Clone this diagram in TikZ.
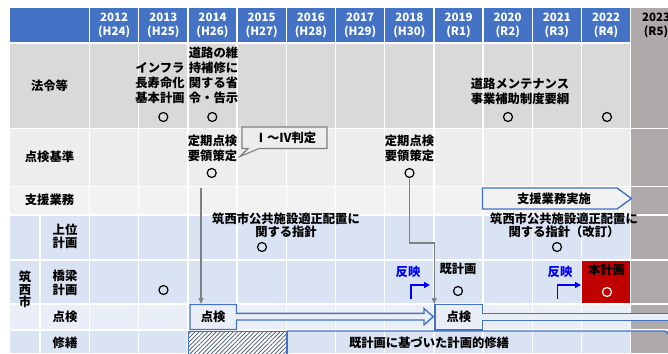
\documentclass[tikz,border=0pt]{standalone}
\usepackage{fontspec}
\setmainfont{Noto Sans CJK JP}
\usetikzlibrary{arrows.meta,patterns.meta}
\definecolor{hdr}{HTML}{4472C4}
\definecolor{rowA}{HTML}{D9D9D9}
\definecolor{rowB}{HTML}{EDEDED}
\definecolor{rowC}{HTML}{F2F2F2}
\definecolor{blA}{HTML}{DAE3F3}
\definecolor{blB}{HTML}{EAEFF7}
\definecolor{colR}{HTML}{AEAAAA}
\definecolor{redbox}{HTML}{C00000}
\definecolor{gline}{HTML}{808080}
\definecolor{hatch}{HTML}{44546A}
\begin{document}
\begin{tikzpicture}[x=1pt,y=-1pt,
  every node/.style={inner sep=0pt,outer sep=0pt,align=center,font=\bfseries\fontsize{12.3}{15.2}\selectfont},
  hd/.style={text=white,font=\bfseries\fontsize{11.5}{14}\selectfont},
  tight/.style={font=\bfseries\fontsize{12.3}{13.5}\selectfont},
  okmark/.style={circle,draw,line width=1.2pt,minimum size=9pt},
  grid/.style={white,line width=1.3pt},
  garrow/.style={gline,line width=1.1pt,-{Triangle[length=6pt,width=5pt]}},
  barrow/.style={blue,line width=1.6pt,-{Triangle[length=6pt,width=6pt]}},
  outl/.style={draw=hdr,line width=1.4pt},
]
\useasboundingbox (0,0) rectangle (668,353);
\clip (0,0) rectangle (668,353);
% row backgrounds
\fill[hdr] (10,8) rectangle (668,42);
\fill[rowA] (10,44) rectangle (668,128.5);
\fill[rowB] (10,128.5) rectangle (668,186.5);
\fill[rowC] (10,186.5) rectangle (668,215);
\fill[blA] (10,215) rectangle (668,304);
\fill[blB] (10,304) rectangle (668,330);
\fill[blA] (10,330) rectangle (668,353);
\fill[colR] (630.7,8) rectangle (668,353);
\fill[redbox] (581.5,260) rectangle (630.7,304);
% grid
\foreach \i in {0,...,11} \draw[grid] ({89.5+49.2*\i},8) -- ({89.5+49.2*\i},353);
\foreach \yy in {128.5,186.5,215,260,304,330} \draw[grid] (10,\yy) -- (668,\yy);
\draw[grid] (40,215) -- (40,353);
% header
\foreach \i/\yr/\era in {0/2012/(H24),1/2013/(H25),2/2014/(H26),3/2015/(H27),4/2016/(H28),5/2017/(H29),6/2018/(H30),7/2019/(R1),8/2020/(R2),9/2021/(R3),10/2022/(R4)}
  \node[hd] (h\i) at ({114.1+49.2*\i},25) {\yr\\\era};
\node[hd,text=black] (h11) at (656,25) {2023\\(R5)};
% row labels
\node (l1) at (49.5,86) {法令等};
\node (l2) at (49.5,157) {点検基準};
\node (l3) at (49.5,200) {支援業務};
\node[font=\bfseries\fontsize{12.3}{12.6}\selectfont] (l4) at (25,289.5) {筑\\西\\市};
\node[tight] (l5) at (65,236.5) {上位\\計画};
\node[tight] (l6) at (65,283) {橋梁\\計画};
\node (l7) at (65,316.5) {点検};
\node (l8) at (65,342.5) {修繕};
% 法令等
\node (t13) at (160,83) {インフラ\\長寿命化\\基本計画};
\node[okmark] (c13) at (163.3,117) {};
\node (t14) at (213.5,75.5) {道路の維\\持補修に\\関する省\\令・告示};
\node[okmark] (c14) at (212.3,117) {};
\node (t20) at (520,91) {道路メンテナンス\\事業補助制度要綱};
\node[okmark] (c20) at (508,117) {};
\node[okmark] (c22) at (607,117) {};
% 点検基準
\node (k14) at (212.5,148.5) {定期点検\\要領策定};
\node[okmark] (ck14) at (211.7,173) {};
\node (k18) at (409.5,148.5) {定期点検\\要領策定};
\node[okmark] (ck18) at (409.5,173) {};
\draw[gline,line width=1.1pt,fill=rowB] (242,127) -- (327,127) -- (327,148.5) -- (259,148.5) -- (240,156.5) -- (248,148.5) -- (242,148.5) -- cycle;
\node (judge) at (285.5,138) {Ⅰ～Ⅳ判定};
% 支援業務
\draw[outl,fill=rowC] (482.5,188) -- (617,188) -- (631.5,198.5) -- (617,209) -- (482.5,209) -- cycle;
\node (sup) at (554,199) {支援業務実施};
% 上位計画
\node[font=\bfseries\fontsize{12.3}{13.5}\selectfont] (u15) at (286,225.5) {筑西市公共施設適正配置に\\関する指針};
\node[okmark] (cu15) at (262,247) {};
\node[font=\bfseries\fontsize{12.3}{13.5}\selectfont] (u21) at (564,225.5) {筑西市公共施設適正配置に\\関する指針（改訂）};
\node[okmark] (cu21) at (557,247) {};
% 橋梁計画
\node[okmark] (b13) at (163.5,290) {};
\node[text=blue] (r18) at (408,272) {反映};
\node (p19) at (458,269) {既計画};
\node[okmark] (b19) at (458,291) {};
\node[text=blue] (r21) at (560,272) {反映};
\node (p22) at (606.5,270) {本計画};
\node[okmark,draw=white] (b22) at (607,292) {};
\coordinate (ra1) at (411,298.5);
\coordinate (ra2) at (430,285);
\coordinate (rb1) at (557.5,298.5);
\coordinate (rb2) at (581,285);
\draw[barrow] (ra1) |- (ra2);
\draw[barrow] (rb1) |- (rb2);
% 修繕
\fill[white] (188.3,331) rectangle (286.5,360);
\fill[pattern={Lines[angle=45,distance=3pt,line width=0.7pt]},pattern color=hatch] (188.3,331) rectangle (286.5,360);
\draw[hdr,line width=0.8pt] (188.3,331) rectangle (286.5,360);
\draw[outl] (287,331) -- (665,331) -- (690,352);
\draw[outl] (287,331) -- (287,360);
\node (rep) at (429,343) {既計画に基づいた計画的修繕};
% 点検 row
\draw[outl,fill=blB] (190,304.5) -- (236.5,304.5) -- (236.5,313.3) -- (424,313.3) -- (424,308.5) -- (433.3,316.7) -- (424,324.8) -- (424,320) -- (236.5,320) -- (236.5,329.5) -- (190,329.5) -- cycle;
\node (k1) at (213.2,317) {点検};
\draw[outl,fill=blB] (435,304.5) -- (482.5,304.5) -- (482.5,313.3) -- (680,313.3) -- (680,320.7) -- (482.5,320.7) -- (482.5,330) -- (435,330) -- cycle;
\node (k2) at (458.8,317) {点検};
% grey connectors
\coordinate (g1) at (201,188);
\coordinate (g1e) at (201,304);
\draw[garrow] (g1) -- (g1e);
\coordinate (g2) at (409.8,178.5);
\coordinate (g2e) at (434.2,304);
\draw[garrow] (g2) |- (422,243) -| (g2e);
\end{tikzpicture}
\end{document}
